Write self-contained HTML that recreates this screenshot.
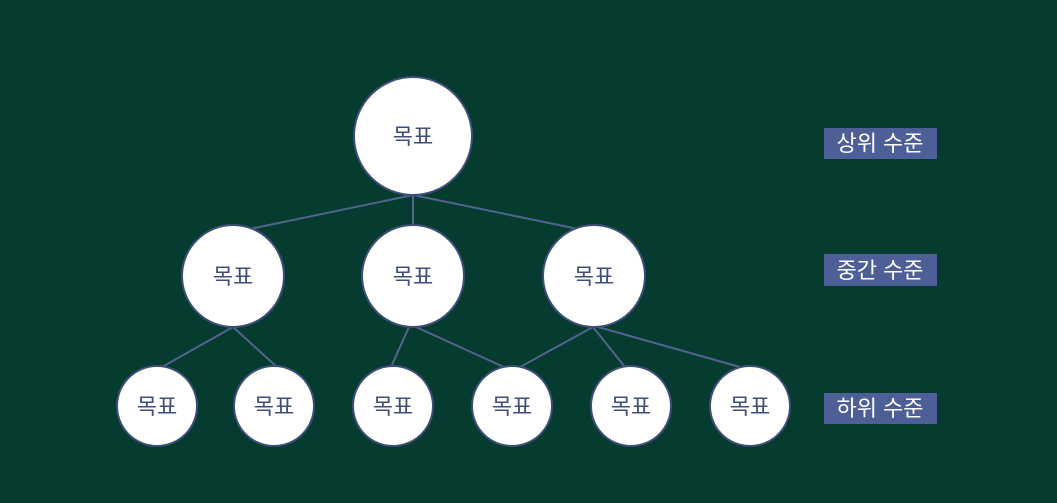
<!DOCTYPE html>
<html><head><meta charset="utf-8"><style>
html,body{margin:0;padding:0;background:#063b2f;}
svg{display:block;}
text{font-family:"Liberation Sans","Noto Sans CJK KR",sans-serif;}
</style></head><body>
<svg width="1057" height="503" viewBox="0 0 1057 503" xmlns="http://www.w3.org/2000/svg">
<rect width="1057" height="503" fill="#063b2f"/>
<g stroke="#52648e" stroke-width="2" fill="none">
<line x1="413" y1="195" x2="250" y2="229"/>
<line x1="413" y1="195" x2="413" y2="226"/>
<line x1="413" y1="195" x2="578" y2="229"/>
<line x1="233" y1="327" x2="162" y2="367"/>
<line x1="233" y1="327" x2="277" y2="367"/>
<line x1="409" y1="327" x2="391" y2="367"/>
<line x1="416" y1="327" x2="506" y2="368"/>
<line x1="593" y1="327" x2="520" y2="367"/>
<line x1="593" y1="327" x2="625" y2="367"/>
<line x1="598" y1="327" x2="740" y2="367"/>
</g>
<g fill="#ffffff" stroke="#3d4e78" stroke-width="2">
<circle cx="413" cy="136" r="59"/>
<circle cx="233" cy="276" r="51"/>
<circle cx="413" cy="276" r="51"/>
<circle cx="594" cy="276" r="51"/>
<circle cx="157" cy="406" r="40"/>
<circle cx="274" cy="406" r="40"/>
<circle cx="393" cy="406" r="40"/>
<circle cx="512" cy="406" r="40"/>
<circle cx="631" cy="406" r="40"/>
<circle cx="750" cy="406" r="40"/>
</g>
<g fill="#3f4f7a" font-size="22" text-anchor="middle">
<text x="413" y="144">목표</text>
<text x="233" y="284">목표</text>
<text x="413" y="284">목표</text>
<text x="594" y="284">목표</text>
<text x="157" y="414">목표</text>
<text x="274" y="414">목표</text>
<text x="393" y="414">목표</text>
<text x="512" y="414">목표</text>
<text x="631" y="414">목표</text>
<text x="750" y="414">목표</text>
</g>
<g fill="#4e5f97">
<rect x="824" y="128" width="113" height="31"/>
<rect x="824" y="254" width="113" height="32"/>
<rect x="824" y="393" width="113" height="31"/>
</g>
<g fill="#ffffff" font-size="22" text-anchor="middle">
<text x="880" y="151">상위 수준</text>
<text x="880" y="278">중간 수준</text>
<text x="880" y="416">하위 수준</text>
</g>
</svg>
</body></html>
